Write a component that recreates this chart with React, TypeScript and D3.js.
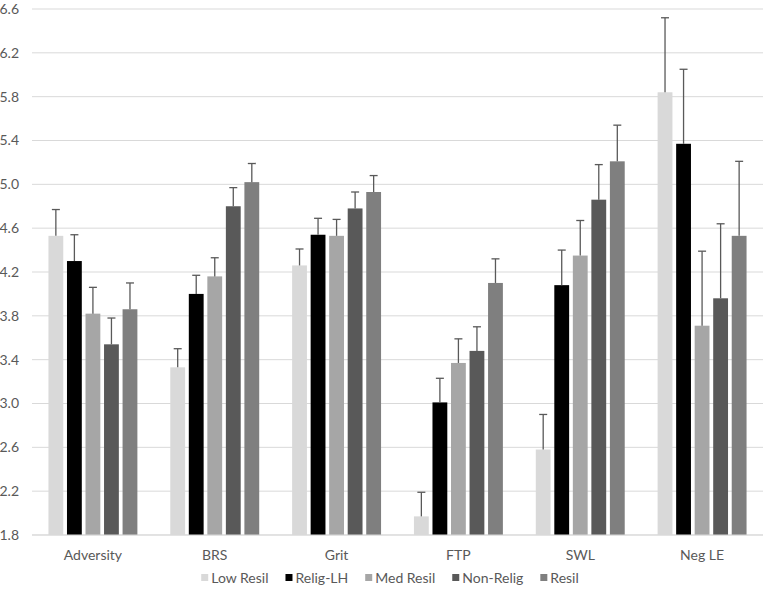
import React, { useEffect, useRef } from 'react';
import * as d3 from 'd3';

const categories = ['Adversity', 'BRS', 'Grit', 'FTP', 'SWL', 'Neg LE'];
const seriesNames = ['Low Resil', 'Relig-LH', 'Med Resil', 'Non-Relig', 'Resil'];
const seriesColors = ['#d9d9d9', '#000000', '#a6a6a6', '#595959', '#7f7f7f'];

// mean values per series, in category order
const lowResil = [4.53, 3.33, 4.26, 1.97, 2.58, 5.84];
const religLH = [4.30, 4.00, 4.54, 3.01, 4.08, 5.37];
const medResil = [3.82, 4.16, 4.53, 3.37, 4.35, 3.71];
const nonRelig = [3.54, 4.80, 4.78, 3.48, 4.86, 3.96];
const resil = [3.86, 5.02, 4.93, 4.10, 5.21, 4.53];

// upper error bar ends
const lowResilErr = [4.77, 3.50, 4.41, 2.19, 2.90, 6.52];
const religLHErr = [4.54, 4.17, 4.69, 3.23, 4.40, 6.05];
const medResilErr = [4.06, 4.33, 4.68, 3.59, 4.67, 4.39];
const nonReligErr = [3.78, 4.97, 4.93, 3.70, 5.18, 4.64];
const resilErr = [4.10, 5.19, 5.08, 4.32, 5.54, 5.21];

const yTicks = [1.8, 2.2, 2.6, 3.0, 3.4, 3.8, 4.2, 4.6, 5.0, 5.4, 5.8, 6.2, 6.6];

const App: React.FC = () => {
    const chartRef = useRef<SVGSVGElement>(null);

    useEffect(() => {
        if (!chartRef.current) return;
        const svg = d3.select(chartRef.current);
        svg.selectAll('*').remove();

        const width = 765;
        const height = 597;
        const margin = { top: 9, right: 2, bottom: 62, left: 32 };
        const innerWidth = width - margin.left - margin.right;
        const innerHeight = height - margin.top - margin.bottom;
        const font = 'Lato, "Open Sans", sans-serif';
        const textColor = '#595959';

        const values = [lowResil, religLH, medResil, nonRelig, resil];
        const errs = [lowResilErr, religLHErr, medResilErr, nonReligErr, resilErr];

        const data = seriesNames.flatMap((s, si) =>
            categories.map((c, ci) => ({ series: s, si, category: c, value: values[si][ci], err: errs[si][ci] }))
        );

        const g = svg.append('g').attr('transform', `translate(${margin.left},${margin.top})`);

        const x = d3.scaleBand().domain(categories).range([0, innerWidth]);
        const groupWidth = x.bandwidth() * 0.73;
        const xInner = d3.scaleBand()
            .domain(seriesNames)
            .range([(x.bandwidth() - groupWidth) / 2, (x.bandwidth() + groupWidth) / 2])
            .paddingInner(0.2);

        const y = d3.scaleLinear().domain([1.8, 6.6]).range([innerHeight, 0]);

        // Gridlines
        g.append('g')
            .selectAll('line')
            .data(yTicks)
            .enter()
            .append('line')
            .attr('x1', 0)
            .attr('x2', innerWidth)
            .attr('y1', d => y(d))
            .attr('y2', d => y(d))
            .attr('stroke', '#d9d9d9')
            .attr('stroke-width', 1);

        // Y tick labels
        g.append('g')
            .selectAll('text')
            .data(yTicks)
            .enter()
            .append('text')
            .attr('x', -13)
            .attr('y', d => y(d))
            .attr('dy', '0.35em')
            .attr('text-anchor', 'end')
            .attr('font-family', font)
            .attr('font-size', '14px')
            .attr('fill', textColor)
            .text(d => d.toFixed(1));

        // Bars
        g.append('g')
            .selectAll('rect')
            .data(data)
            .enter()
            .append('rect')
            .attr('x', d => (x(d.category) as number) + (xInner(d.series) as number))
            .attr('y', d => y(d.value))
            .attr('width', xInner.bandwidth())
            .attr('height', d => innerHeight - y(d.value))
            .attr('fill', d => seriesColors[d.si]);

        // Error bars
        const eb = g.append('g')
            .selectAll('g')
            .data(data)
            .enter()
            .append('g')
            .attr('transform', d => `translate(${(x(d.category) as number) + (xInner(d.series) as number) + xInner.bandwidth() / 2},0)`);
        eb.append('line')
            .attr('x1', 0)
            .attr('x2', 0)
            .attr('y1', d => y(d.value))
            .attr('y2', d => y(d.err))
            .attr('stroke', '#595959')
            .attr('stroke-width', 1.3);
        eb.append('line')
            .attr('x1', -4)
            .attr('x2', 4)
            .attr('y1', d => y(d.err))
            .attr('y2', d => y(d.err))
            .attr('stroke', '#595959')
            .attr('stroke-width', 1.3);

        // Baseline
        g.append('line')
            .attr('x1', 0)
            .attr('x2', innerWidth)
            .attr('y1', innerHeight)
            .attr('y2', innerHeight)
            .attr('stroke', '#d9d9d9');

        // Category labels
        g.append('g')
            .selectAll('text')
            .data(categories)
            .enter()
            .append('text')
            .attr('x', d => (x(d) as number) + x.bandwidth() / 2)
            .attr('y', innerHeight + 20)
            .attr('dy', '0.35em')
            .attr('text-anchor', 'middle')
            .attr('font-family', font)
            .attr('font-size', '14px')
            .attr('fill', textColor)
            .text(d => d);

        // Legend
        const legend = svg.append('g').attr('transform', `translate(0, 578)`);
        const items = legend.selectAll('g')
            .data(seriesNames)
            .enter()
            .append('g');
        items.append('rect')
            .attr('y', -4)
            .attr('width', 7)
            .attr('height', 7)
            .attr('fill', (d, i) => seriesColors[i]);
        items.append('text')
            .attr('x', 10)
            .attr('y', 0)
            .attr('dy', '0.35em')
            .attr('font-family', font)
            .attr('font-size', '14px')
            .attr('fill', textColor)
            .text(d => d);

        // lay out legend items centered
        const gap = 17;
        const widths: number[] = [];
        items.each(function () {
            widths.push((this as SVGGElement).getBBox().width);
        });
        const total = d3.sum(widths) + gap * (widths.length - 1);
        let cx = 390 - total / 2;
        items.attr('transform', (d, i) => {
            const t = `translate(${cx},0)`;
            cx += widths[i] + gap;
            return t;
        });
    }, []);

    return (
        <svg ref={chartRef} width={765} height={597} style={{ display: 'block', position: 'absolute', left: 0, top: 0, background: '#fff' }} />
    );
};

export default App;
